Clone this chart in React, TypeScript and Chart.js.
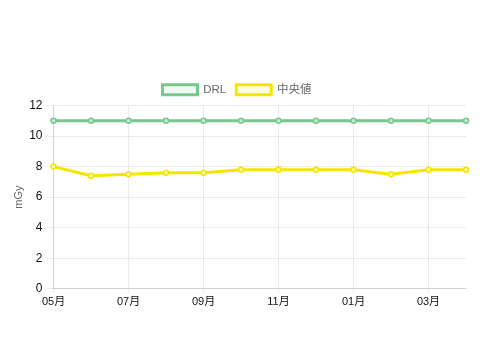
import React, { useEffect, useRef } from "react";
import { Chart, registerables } from "chart.js";

Chart.register(...registerables);

const categories = ["05月", "06月", "07月", "08月", "09月", "10月", "11月", "12月", "01月", "02月", "03月", "04月"];
const drlValues = [11, 11, 11, 11, 11, 11, 11, 11, 11, 11, 11, 11];
const medianValues = [8.0, 7.4, 7.5, 7.6, 7.6, 7.8, 7.8, 7.8, 7.8, 7.5, 7.8, 7.8];
const yTicks = [0, 2, 4, 6, 8, 10, 12];

export default function App() {
  const ref = useRef<HTMLCanvasElement>(null);
  useEffect(() => {
    if (!ref.current) return;
    Chart.defaults.font.family = "'Liberation Sans', Arial, 'Noto Sans CJK JP', sans-serif";
    const chart = new Chart(ref.current, {
      type: "line",
      data: {
        labels: categories,
        datasets: [
          {
            label: "DRL",
            data: drlValues,
            borderColor: "rgba(120,200,140,1)",
            backgroundColor: "rgba(120,200,140,0.1)",
            borderWidth: 3,
            pointRadius: 2.5,
            pointBorderWidth: 1.5,
            pointBackgroundColor: "rgba(200,235,210,1)",
            fill: false,
            tension: 0,
          },
          {
            label: "中央値",
            data: medianValues,
            borderColor: "rgba(245,230,0,1)",
            backgroundColor: "rgba(245,230,0,0.1)",
            borderWidth: 3,
            pointRadius: 2.5,
            pointBorderWidth: 1.5,
            pointBackgroundColor: "rgba(252,248,170,1)",
            fill: false,
            tension: 0,
          },
        ],
      },
      options: {
        animation: false,
        responsive: true,
        maintainAspectRatio: false,
        layout: { padding: { top: 66, bottom: 41, right: 20 } },
        plugins: {
          legend: {
            labels: { boxWidth: 35, boxHeight: 10, color: "#666", font: { size: 11.5 } },
          },
          tooltip: { enabled: false },
        },
        scales: {
          x: {
            ticks: { color: "#111", maxRotation: 0, autoSkip: true, maxTicksLimit: 6, font: { size: 11 } },
            grid: { color: "rgba(0,0,0,0.08)", tickLength: 4 },
          },
          y: {
            min: 0,
            max: 12,
            afterBuildTicks: (axis: any) => {
              axis.ticks = yTicks.map((v) => ({ value: v }));
            },
            ticks: { color: "#111", font: { size: 12 } },
            grid: { color: "rgba(0,0,0,0.08)" },
            title: { display: true, text: "mGy", color: "#666", font: { size: 11 }, padding: { top: 4, bottom: 1 } },
          },
        },
      },
    });
    return () => chart.destroy();
  }, []);
  return (
    <div style={{ width: 478, height: 345, position: "relative" }}>
      <canvas ref={ref} />
    </div>
  );
}
